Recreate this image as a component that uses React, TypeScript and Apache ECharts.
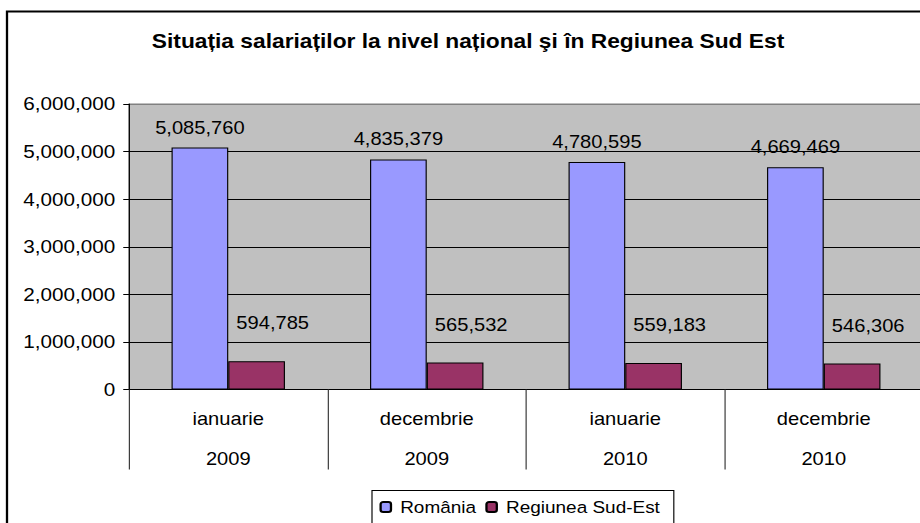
import React, { useEffect, useRef } from "react";
import * as echarts from "echarts";

const months = ["ianuarie", "decembrie", "ianuarie", "decembrie"];
const years = ["2009", "2009", "2010", "2010"];
const romania = [5085760, 4835379, 4780595, 4669469];
const sudEst = [594785, 565532, 559183, 546306];
const seriesNames = ["România", "Regiunea Sud-Est"];
const titleText = "Situația salariaților la nivel național şi în Regiunea Sud Est";

const SX = 1.15; // horizontal stretch of the reference picture
const W = 810;
const H = 523;
const FONT = "'Liberation Sans', Arial, sans-serif";
const fmt = (v: number) => Number(v).toLocaleString("en-US");

export default function App() {
  const ref = useRef<HTMLDivElement>(null);
  useEffect(() => {
    if (!ref.current) return;
    const chart = echarts.init(ref.current, undefined, { renderer: "svg" });
    chart.setOption({
      animation: false,
      backgroundColor: "#fff",
      textStyle: { fontFamily: FONT },
      graphic: [
        {
          type: "rect",
          shape: { x: 7 / SX, y: 11.5, width: 900, height: 600 },
          style: { fill: "none", stroke: "#000", lineWidth: 2 },
          silent: true,
        },
        {
          type: "text",
          x: 468 / SX,
          y: 42,
          style: {
            text: titleText,
            fontFamily: FONT,
            fontWeight: "bold",
            fontSize: 19.8,
            fill: "#000",
            align: "center",
            verticalAlign: "middle",
          },
        },
      ],
      legend: {
        left: 372 / SX,
        top: 490.5,
        orient: "horizontal",
        itemWidth: 9,
        itemHeight: 10,
        itemGap: 8,
        padding: [8, 12, 8, 6.5],
        borderColor: "#000",
        borderWidth: 1,
        backgroundColor: "#fff",
        textStyle: { fontSize: 16.5, color: "#000", fontFamily: FONT, padding: [0, 0, 0, 3] },
        data: seriesNames,
      },
      grid: {
        left: 129 / SX,
        right: W - 923 / SX,
        top: 104,
        bottom: H - 389.5,
        show: true,
        backgroundColor: "#C0C0C0",
        borderColor: "#808080",
        borderWidth: 1,
      },
      xAxis: {
        type: "category",
        data: months.map((m, i) => `${m}\n${years[i]}`),
        axisLine: { show: true, lineStyle: { color: "#000", width: 1 } },
        axisTick: { show: true, length: 80, interval: 0, lineStyle: { color: "#333" } },
        axisLabel: {
          interval: 0,
          margin: 9,
          lineHeight: 40,
          fontSize: 17.5,
          color: "#000",
          fontFamily: FONT,
        },
        splitLine: { show: false },
      },
      yAxis: {
        type: "value",
        min: 0,
        max: 6000000,
        interval: 1000000,
        axisLine: { show: true, lineStyle: { color: "#000", width: 1 } },
        axisTick: { show: true, length: 5, inside: false, lineStyle: { color: "#000" } },
        axisLabel: {
          margin: 12,
          fontSize: 18,
          color: "#000",
          fontFamily: FONT,
          formatter: (v: number) => fmt(v),
        },
        splitLine: {
          show: true,
          lineStyle: {
            color: ["#000", "#000", "#000", "#000", "#000", "#000", "#808080"],
            width: 1,
          },
        },
      },
      series: [
        {
          name: seriesNames[0],
          type: "bar",
          data: romania,
          barGap: "0%",
          barCategoryGap: "42.86%",
          itemStyle: { color: "#9999FF", borderColor: "#000", borderWidth: 1 },
          label: {
            show: true,
            position: "top",
            distance: 11,
            fontSize: 17.5,
            color: "#000",
            fontFamily: FONT,
            formatter: (p: any) => fmt(p.value),
          },
        },
        {
          name: seriesNames[1],
          type: "bar",
          data: sudEst,
          barGap: "0%",
          barCategoryGap: "42.86%",
          itemStyle: { color: "#993366", borderColor: "#000", borderWidth: 1 },
          label: {
            show: true,
            position: "top",
            distance: 29,
            offset: [14, 0],
            fontSize: 17.5,
            color: "#000",
            fontFamily: FONT,
            formatter: (p: any) => fmt(p.value),
          },
        },
      ],
    });
    return () => chart.dispose();
  }, []);

  return (
    <div
      style={{
        position: "fixed",
        left: 0,
        top: 0,
        width: 920,
        height: H,
        overflow: "hidden",
        background: "#fff",
      }}
    >
      <div
        ref={ref}
        style={{
          width: W,
          height: H,
          transform: `scaleX(${SX})`,
          transformOrigin: "0 0",
        }}
      />
    </div>
  );
}
